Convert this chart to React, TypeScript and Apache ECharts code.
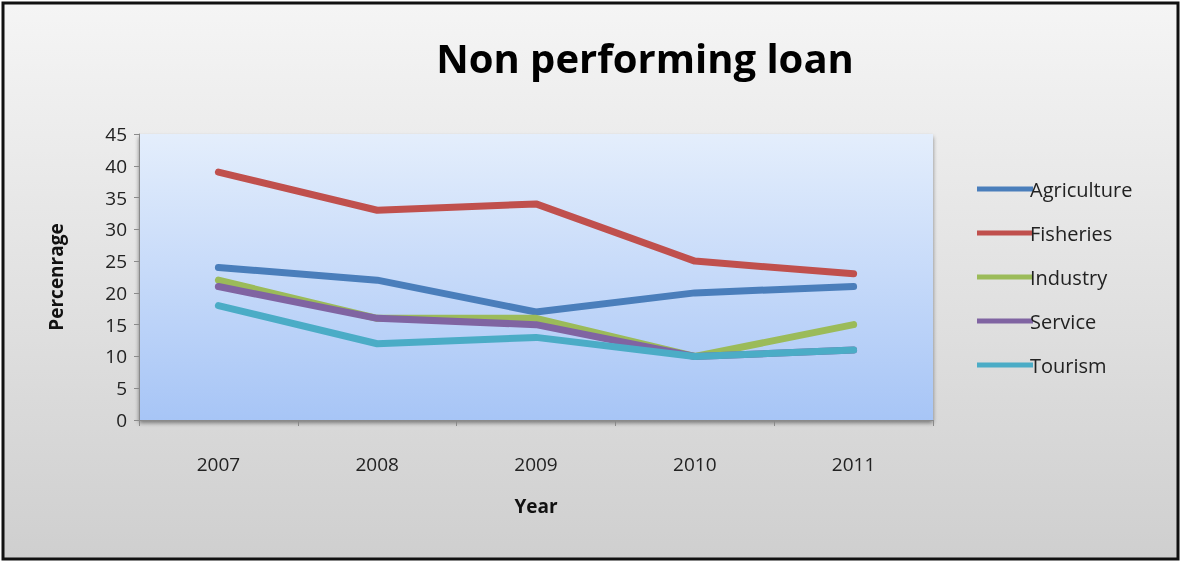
import React, { useEffect, useRef } from "react";
import * as echarts from "echarts";

const years = ["2007", "2008", "2009", "2010", "2011"];
const agriculture = [24, 22, 17, 20, 21];
const fisheries = [39, 33, 34, 25, 23];
const industry = [22, 16, 16, 10, 15];
const service = [21, 16, 15, 10, 11];
const tourism = [18, 12, 13, 10, 11];

const seriesNames = ["Agriculture", "Fisheries", "Industry", "Service", "Tourism"];
const seriesData = [agriculture, fisheries, industry, service, tourism];
const colors = ["#4a7ebb", "#c0504d", "#9bbb59", "#8064a2", "#4bacc6"];

const FONT = "'Open Sans', 'Noto Sans', sans-serif";

export default function App() {
  const ref = useRef<HTMLDivElement>(null);
  useEffect(() => {
    if (!ref.current) return;
    const chart = echarts.init(ref.current, undefined, { renderer: "svg" });
    chart.setOption({
      animation: false,
      backgroundColor: "transparent",
      color: colors,
      title: {
        text: "Non performing loan",
        left: 640,
        top: 32,
        textAlign: "center",
        textStyle: { fontFamily: FONT, fontSize: 40, fontWeight: "bold", color: "#000" },
      },
      graphic: [
        {
          type: "rect",
          z: -10,
          silent: true,
          shape: { x: 3, y: 3, width: 1175, height: 556 },
          style: {
            fill: new echarts.graphic.LinearGradient(0, 0, 0, 1, [
              { offset: 0, color: "#f5f5f5" },
              { offset: 1, color: "#cfcfcf" },
            ]),
            stroke: "#111",
            lineWidth: 3,
          },
        },
      ],
      legend: {
        left: 972,
        top: 174,
        orient: "vertical",
        icon: "rect",
        itemWidth: 56,
        itemHeight: 5,
        itemGap: 24,
        textStyle: { fontFamily: FONT, fontSize: 20, color: "#222", lineHeight: 20, padding: [0, 0, 0, -8] },
        data: seriesNames,
      },
      grid: {
        left: 139,
        top: 134,
        right: 248,
        bottom: 143,
        show: true,
        borderWidth: 0,
        backgroundColor: new echarts.graphic.LinearGradient(0, 0, 0, 1, [
          { offset: 0, color: "#e4eefc" },
          { offset: 1, color: "#a7c5f6" },
        ]),
        shadowColor: "rgba(0,0,0,0.45)",
        shadowBlur: 4,
        shadowOffsetY: 3,
      },
      xAxis: {
        type: "category",
        data: years,
        boundaryGap: true,
        name: "Year",
        nameLocation: "middle",
        nameGap: 76,
        nameTextStyle: { fontFamily: FONT, fontSize: 19, fontWeight: "bold", color: "#111" },
        axisLine: { lineStyle: { color: "#8a8a8a", width: 1 } },
        axisTick: { show: true, length: 6, lineStyle: { color: "#8a8a8a" } },
        axisLabel: { fontFamily: FONT, fontSize: 19, color: "#222", margin: 34 },
      },
      yAxis: {
        type: "value",
        min: 0,
        max: 45,
        interval: 5,
        name: "Percenrage",
        nameLocation: "middle",
        nameGap: 74,
        nameTextStyle: { fontFamily: FONT, fontSize: 19, fontWeight: "bold", color: "#111" },
        axisLine: { show: true, lineStyle: { color: "#8a8a8a", width: 1 } },
        axisTick: { show: true, length: 5, lineStyle: { color: "#8a8a8a" } },
        splitLine: { show: false },
        axisLabel: { fontFamily: FONT, fontSize: 19, color: "#222", margin: 12 },
      },
      series: seriesNames.map((name, i) => ({
        name,
        type: "line",
        data: seriesData[i],
        symbol: "none",
        lineStyle: { width: 7, color: colors[i], cap: "round", join: "round" },
        itemStyle: { color: colors[i] },
        z: 2 + i,
      })),
    });
    return () => chart.dispose();
  }, []);
  return (
    <div
      ref={ref}
      style={{ position: "fixed", left: 0, top: 0, width: 1181, height: 563 }}
    />
  );
}
